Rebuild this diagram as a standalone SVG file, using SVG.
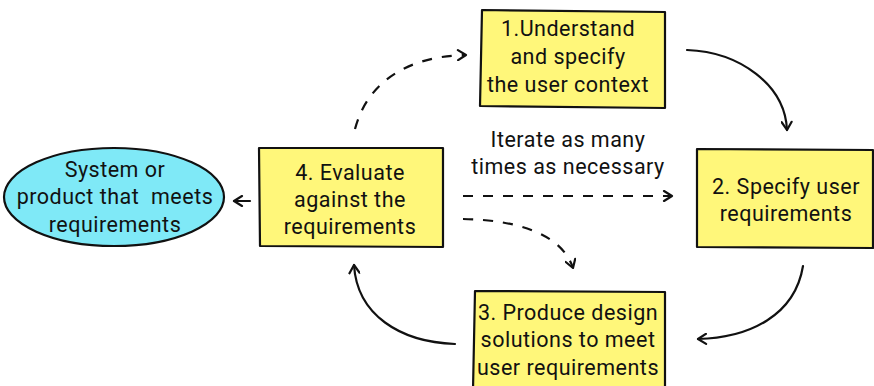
<svg xmlns="http://www.w3.org/2000/svg" width="874" height="386" viewBox="0 0 874 386">
<defs>
<style>
.box{fill:#FFF77A;stroke:#111;stroke-width:2.2;stroke-linejoin:round}
.ell{fill:#7FE9F7;stroke:#111;stroke-width:2.2}
.t{font-family:Roboto,"Noto Sans",sans-serif;font-size:21.5px;letter-spacing:0.5px;fill:#111;text-anchor:middle}
.c{fill:none;stroke:#111;stroke-width:2.2;stroke-linecap:round}
.d{fill:none;stroke:#111;stroke-width:2.2;stroke-dasharray:10 10}
</style>
<marker id="ah" viewBox="0 0 12 12" refX="10" refY="6" markerWidth="12" markerHeight="12" markerUnits="userSpaceOnUse" orient="auto">
<path d="M2,1 L10,6 L2,11" fill="none" stroke="#111" stroke-width="2.2" stroke-linecap="round" stroke-linejoin="round"/>
</marker>
</defs>
<rect width="874" height="386" fill="#fff"/>
<g id="connectors">
<path class="c" d="M687,50 C740,52 785,85 787,130" marker-end="url(#ah)"/>
<path class="c" d="M803,266 C795,315 750,338 698,339" marker-end="url(#ah)"/>
<path class="c" d="M455,344 C400,342 357,315 354,265" marker-end="url(#ah)"/>
<path class="c" d="M250,201 L234,201" marker-end="url(#ah)"/>
<path class="d" d="M355,129 C368,80 410,56 466,55" marker-end="url(#ah)"/>
<path class="d" d="M463,196 L672,196" marker-end="url(#ah)"/>
<path class="d" d="M463,219 C520,220 562,235 573,268" marker-end="url(#ah)"/>
</g>
<g id="n1">
<path class="box" d="M482,10 L665,12 L665,108 L480,106 Z"/>
<text class="t" x="568" y="36">1.Understand</text>
<text class="t" x="568" y="64">and specify</text>
<text class="t" x="568" y="92">the user context</text>
</g>
<g id="n2">
<path class="box" d="M697,149 L873,150 L873,248 L697,247 Z"/>
<text class="t" x="786" y="194">2. Specify user</text>
<text class="t" x="786" y="221">requirements</text>
</g>
<g id="n3">
<path class="box" d="M475,291 L665,292 L665,390 L473,390 Z"/>
<text class="t" x="568" y="320">3. Produce design</text>
<text class="t" x="568" y="347">solutions to meet</text>
<text class="t" x="568" y="375">user requirements</text>
</g>
<g id="n4">
<path class="box" d="M259,148 L443,148 L443,247 L260,246 Z"/>
<text class="t" x="350" y="180">4. Evaluate</text>
<text class="t" x="350" y="207">against the</text>
<text class="t" x="350" y="234">requirements</text>
</g>
<g id="n5">
<ellipse class="ell" cx="114" cy="197" rx="110" ry="49"/>
<text class="t" x="115" y="177">System or</text>
<text class="t" x="115" y="204" xml:space="preserve">product that  meets</text>
<text class="t" x="115" y="232">requirements</text>
</g>
<g id="label">
<text class="t" x="568" y="147">Iterate as many</text>
<text class="t" x="568" y="174">times as necessary</text>
</g>
</svg>
